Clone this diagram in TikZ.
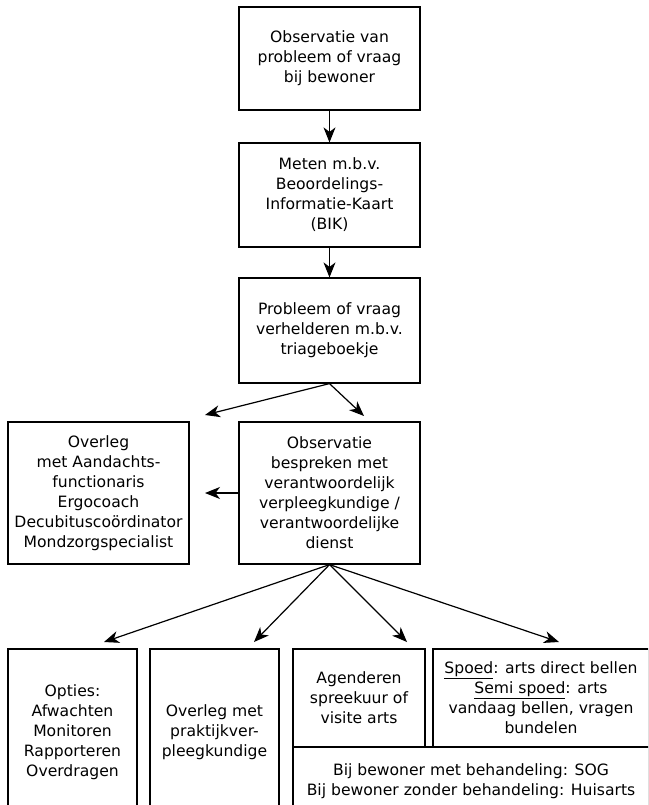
\documentclass[tikz,border=0pt]{standalone}
\usepackage{fontspec}
\setmainfont{DejaVu Sans}
\usetikzlibrary{arrows.meta}
\begin{document}
\begin{tikzpicture}[x=1pt,y=-1pt,line width=1.2pt,
    box/.style={draw,rectangle,align=center,inner sep=0pt,
      font=\fontsize{15.6}{20}\selectfont},
    arr/.style={-{Stealth[length=15pt,width=12pt,inset=4.5pt]}}]

        \useasboundingbox (0,0) rectangle (648,805);
        \clip (0,0) rectangle (648,805);

        \begin{scope}[every node/.style={box}]
          \node[minimum width=181pt,minimum height=103pt] (obs)    at (329.5,58.5) {Observatie van\\probleem of vraag\\bij bewoner};
          \node[minimum width=181pt,minimum height=104pt] (meten)  at (329.5,195)  {Meten m.b.v.\\Beoordelings-\\Informatie-Kaart\\(BIK)};
          \node[minimum width=181pt,minimum height=105pt] (triage) at (329.5,330.5) {Probleem of vraag\\verhelderen m.b.v.\\triageboekje};
          \node[minimum width=181pt,minimum height=142pt] (overleg) at (98.5,493) {Overleg\\met Aandachts-\\functionaris\\Ergocoach\\Decubituscoördinator\\Mondzorgspecialist};
          \node[minimum width=181pt,minimum height=142pt] (bespr)  at (329.5,493) {Observatie\\bespreken met\\verantwoordelijk\\verpleegkundige /\\verantwoordelijke\\dienst};
          \node[minimum width=129pt,minimum height=166pt] (opties) at (72.5,732)  {Opties:\\Afwachten\\Monitoren\\Rapporteren\\Overdragen};
          \node[minimum width=129pt,minimum height=166pt] (pvk)    at (214.5,732) {Overleg met\\praktijkver-\\pleegkundige};
          \node[minimum width=132pt,minimum height=98pt]  (agenda) at (359,698)   {Agenderen\\spreekuur of\\visite arts};
          \node[minimum width=216pt,minimum height=98pt]  (spoed)  at (541,698)   {\underline{Spoed}: arts direct bellen\\\underline{Semi spoed}: arts\\vandaag bellen, vragen\\bundelen};
          \node[minimum width=356pt,minimum height=68pt]  (arts)   at (471,781)   {Bij bewoner met behandeling: SOG\\Bij bewoner zonder behandeling: Huisarts};
        \end{scope}

        % free ends of the arrows
        \coordinate (t1) at (205,415);
        \coordinate (t2) at (364,416);
        \coordinate (t3) at (205,493);
        \coordinate (t4) at (104,642);
        \coordinate (t5) at (254,642);
        \coordinate (t6) at (407,642);
        \coordinate (t7) at (559,642);

        \begin{scope}[every path/.style={arr}]
          \draw (obs)    -- (meten);
          \draw (meten)  -- (triage);
          \draw (triage.south) -- (t1);
          \draw (triage.south) -- (t2);
          \draw (bespr.west)   -- (t3);
          \draw (bespr.south)  -- (t4);
          \draw (bespr.south)  -- (t5);
          \draw (bespr.south)  -- (t6);
          \draw (bespr.south)  -- (t7);
        \end{scope}

      \end{tikzpicture}
\end{document}
